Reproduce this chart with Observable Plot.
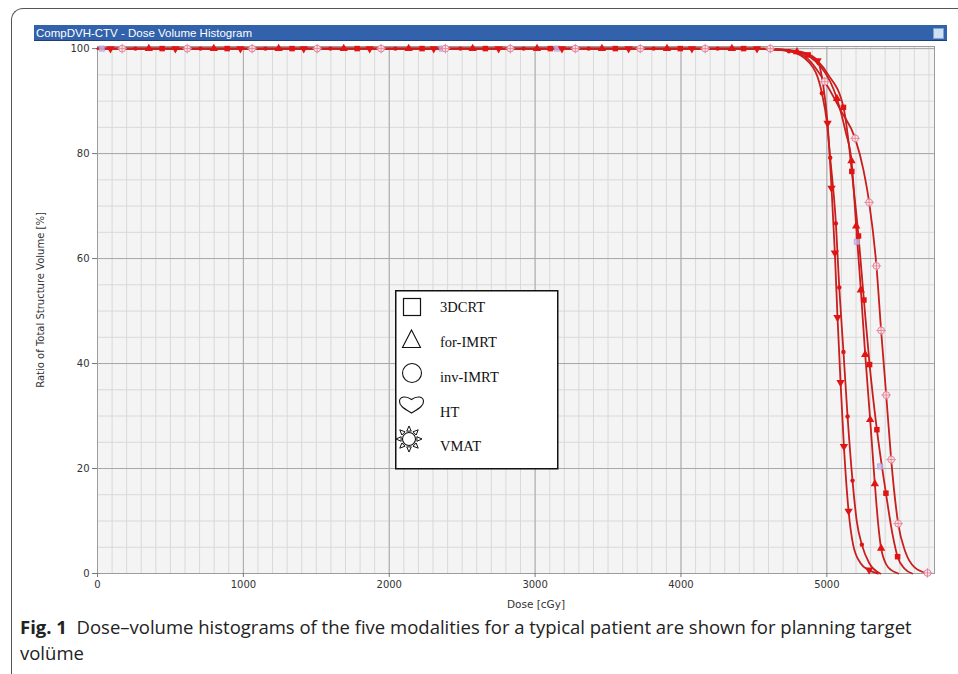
<!DOCTYPE html>
<html><head><meta charset="utf-8">
<script src="https://cdn.jsdelivr.net/npm/d3@7"></script>
<script src="https://cdn.jsdelivr.net/npm/@observablehq/plot@0.6"></script>
<style>
html,body{margin:0;padding:0;background:#fff}
body{width:958px;height:674px;overflow:hidden;position:relative;font-family:"DejaVu Sans",sans-serif}
#frame{position:absolute;left:11px;top:8px;width:990px;height:720px;border-left:1.5px solid #555;border-top:1.5px solid #555;border-top-left-radius:12px;box-sizing:border-box}
#titlebar{position:absolute;left:34px;top:25px;width:913px;height:16px;background:#3162ab;color:#fff;font:11.5px "Liberation Sans",Arial,sans-serif;line-height:16px;padding-left:2px;box-sizing:border-box;border-bottom:1px solid #1d3f78}
#titlebar .ico{position:absolute;right:3px;top:3px;width:9px;height:9px;background:#cfe0f5;border:1px solid #7fa1d0}
#chart{position:absolute;left:0;top:0}
#xlab{position:absolute;left:536px;top:598px;transform:translateX(-50%);font:10.5px "DejaVu Sans",sans-serif;color:#333;white-space:nowrap}
#ylab{position:absolute;left:40px;top:300px;transform:translate(-50%,-50%) rotate(-90deg);font:10px "DejaVu Sans",sans-serif;color:#333;white-space:nowrap}
#legend{position:absolute;left:395px;top:290px}
#caption{position:absolute;left:20px;top:614px;font:18.5px "Open Sans",sans-serif;line-height:26px;color:#222;white-space:nowrap}
</style>
</head><body>
<div id="frame"></div>
<div id="titlebar">CompDVH-CTV - Dose Volume Histogram<div class="ico"></div></div>
<div id="chart"></div>
<div id="xlab">Dose [cGy]</div>
<div id="ylab">Ratio of Total Structure Volume [%]</div>
<svg id="legend" width="164" height="180">
  <rect x="0.75" y="0.75" width="162" height="178" fill="#fff" stroke="#111" stroke-width="1.5"/>
  <rect x="8.5" y="8.5" width="17" height="17" fill="none" stroke="#111" stroke-width="1.2"/>
  <path d="M16.5 40 L25.5 57.5 L7.5 57.5 Z" fill="none" stroke="#111" stroke-width="1.1"/>
  <circle cx="17" cy="83" r="9.5" fill="none" stroke="#111" stroke-width="1.1"/>
  <path d="M16.5 123 C10 119,4 116,4.5 111 C5 106.5,11 105.5,16.5 109.5 C22 105.5,28 106.5,28.5 111 C29 116,23 119,16.5 123 Z" fill="none" stroke="#111" stroke-width="1.1"/>
  <g id="sun" transform="translate(14,149)"></g>
  <g font-family="'Liberation Serif','DejaVu Serif',serif" font-size="14.5" fill="#111">
    <text x="45" y="22">3DCRT</text>
    <text x="45" y="56.5">for-IMRT</text>
    <text x="45" y="91.5">inv-IMRT</text>
    <text x="45" y="126.5">HT</text>
    <text x="45" y="161">VMAT</text>
  </g>
</svg>
<div id="caption"><b>Fig. 1</b>&nbsp; Dose–volume histograms of the five modalities for a typical patient are shown for planning target<br>volüme</div>
<script>
// ---------- axis ticks ----------
const doseTicks = [0, 1000, 2000, 3000, 4000, 5000];
const volTicks = [0, 20, 40, 60, 80, 100];
const doseMinorStep = 100;
const volMinorStep = 5;
const doseMax = 5738;

// ---------- series names ----------
const seriesNames = ["3DCRT", "for-IMRT", "inv-IMRT", "HT", "VMAT"];

// ---------- DVH curves [dose cGy, volume %] ----------
const curve3DCRT = [[0,100],[4500,100],[4700,99.7],[4872,98.8],[5010,95],[5114,88.8],[5150,82],[5171,76.6],[5217,64.3],[5254,52.1],[5293,39.8],[5343,27.4],[5405,15.3],[5450,7.5],[5485,3.2],[5530,1],[5585,0]];
const curveForIMRT = [[0,100],[4500,100],[4650,99.8],[4795,99.4],[4960,96.5],[5069,90.5],[5130,84],[5169,78.6],[5201,66.2],[5233,54.0],[5263,41.7],[5297,29.3],[5329,17.1],[5350,10],[5372,4.8],[5420,1.2],[5490,0]];
const curveInvIMRT = [[0,100],[4500,100],[4620,99.8],[4740,99.5],[4880,97.3],[4966,91.5],[5000,86],[5023,79.2],[5062,66.7],[5085,54.5],[5114,42.2],[5142,29.9],[5176,17.7],[5205,10],[5240,5.5],[5290,2],[5366,0]];
const curveHT = [[0,100],[4550,100],[4700,99.8],[4850,99.2],[4936,97.7],[4975,93],[5005,85.8],[5032,73.4],[5055,61.1],[5073,48.8],[5094,36.4],[5117,24.2],[5149,11.9],[5180,5.5],[5230,2],[5290,0.6],[5350,0]];
const curveVMAT = [[0,100],[4550,100],[4700,99.8],[4850,98.5],[4986,93.7],[5100,88],[5194,82.9],[5250,77],[5290,70.7],[5340,58.6],[5372,46.3],[5407,34.0],[5441,21.7],[5489,9.5],[5540,4],[5600,1.2],[5690,0]];

// ---------- marker positions ----------
// plateau markers (volume 100 %), doses in cGy
const plateau3DCRT = [443, 889, 1334, 1780, 2225, 2659, 3104, 3550, 3995, 4429];
const plateauForIMRT = [352, 797, 1242, 1688, 2133, 2572, 3013, 3458, 3904, 4349];
const plateauInvIMRT = [260, 706, 1151, 1597, 2042, 2488, 2921, 3367, 3812, 4251];
const plateauHT = [89, 534, 980, 1414, 1866, 2305, 2750, 3184, 3641, 4075, 4521];
const plateauVMAT = [169, 615, 1060, 1506, 1944, 2385, 2830, 3276, 3721, 4166, 4612];
// fall-off markers [dose, volume]
const fall3DCRT = [[4872,98.8],[5114,88.8],[5171,76.6],[5217,64.3],[5254,52.1],[5293,39.8],[5343,27.4],[5405,15.3],[5485,3.2]];
const fallForIMRT = [[4795,99.4],[5069,90.5],[5169,78.6],[5201,66.2],[5233,54.0],[5263,41.7],[5297,29.3],[5329,17.1],[5372,4.8]];
const fallInvIMRT = [[4740,99.5],[4966,91.5],[5023,79.2],[5062,66.7],[5085,54.5],[5114,42.2],[5142,29.9],[5176,17.7],[5240,5.5]];
const fallHT = [[4936,97.7],[5005,85.8],[5032,73.4],[5055,61.1],[5073,48.8],[5094,36.4],[5117,24.2],[5149,11.9],[5290,0.7]];
const fallVMAT = [[4986,93.7],[5194,82.9],[5290,70.7],[5340,58.6],[5372,46.3],[5407,34.0],[5441,21.7],[5489,9.5],[5690,0.1]];
// faint lavender markers
const faintMarks = [[30,100],[2360,100],[3150,100],[5206,63.2],[5366,20.4]];

// ---------- build tables ----------
const curves = [curve3DCRT, curveForIMRT, curveInvIMRT, curveHT, curveVMAT];
const lineData = curves.flatMap((c, i) => c.map(([dose, vol]) => ({series: seriesNames[i], dose, vol})));
const toMarks = (plat, fall) => plat.map(d => ({dose: d, vol: 100})).concat(fall.map(([dose, vol]) => ({dose, vol})));
const m3DCRT = toMarks(plateau3DCRT, fall3DCRT);
const mForIMRT = toMarks(plateauForIMRT, fallForIMRT);
const mInvIMRT = toMarks(plateauInvIMRT, fallInvIMRT);
const mHT = toMarks(plateauHT, fallHT);
const mVMAT = toMarks(plateauVMAT, fallVMAT);
const mFaint = faintMarks.map(([dose, vol]) => ({dose, vol}));

const minorDose = d3.range(0, doseMax, doseMinorStep);
const minorVol = d3.range(0, 100.1, volMinorStep);

const lineColor = "#c81e1e";
const markColor = "#e11414";
const pink = "#e3869a";
const fmt = d3.format("d");

const chart = Plot.plot({
  width: 958, height: 613,
  marginLeft: 97, marginRight: 24, marginTop: 46, marginBottom: 40,
  x: {domain: [0, doseMax], axis: null},
  y: {domain: [0, 100.4], axis: null},
  style: {background: "transparent", fontFamily: "DejaVu Sans, sans-serif", fontSize: "10px", color: "#333"},
  marks: [
    Plot.frame({fill: "#f4f4f4"}),
    Plot.gridX({ticks: minorDose, stroke: "#d9d9d9", strokeOpacity: 1}),
    Plot.gridY({ticks: minorVol, stroke: "#d9d9d9", strokeOpacity: 1}),
    Plot.gridX({ticks: doseTicks, stroke: "#a8a8a8", strokeOpacity: 1}),
    Plot.gridY({ticks: volTicks, stroke: "#a8a8a8", strokeOpacity: 1}),
    Plot.frame({stroke: "#9c9c9c"}),
    Plot.axisX({ticks: doseTicks, tickFormat: fmt, tickSize: 4, tickPadding: 3, label: null, stroke: "#777"}),
    Plot.axisY({ticks: volTicks, tickFormat: fmt, tickSize: 5, tickPadding: 3, label: null, stroke: "#777"}),
    Plot.line(lineData, {x: "dose", y: "vol", z: "series", stroke: lineColor, strokeWidth: 1.8, curve: "monotone-x"}),
    Plot.dot(mFaint, {x: "dose", y: "vol", symbol: "square", r: 3, fill: "#c9b8ee", fillOpacity: 0.8, stroke: "#a996df", strokeWidth: 0.6}),
    Plot.dot(mVMAT, {x: "dose", y: "vol", r: 3.4, fill: "#fbe4ea", stroke: pink, strokeWidth: 1}),
    Plot.dot(mVMAT, {x: "dose", y: "vol", symbol: "plus", r: 3.2, stroke: pink, strokeWidth: 0.9}),
    Plot.dot(m3DCRT, {x: "dose", y: "vol", symbol: "square", r: 3.1, fill: markColor}),
    Plot.dot(mForIMRT, {x: "dose", y: "vol", symbol: "triangle", r: 3.1, fill: markColor}),
    Plot.dot(mInvIMRT, {x: "dose", y: "vol", r: 2.2, fill: markColor}),
    Plot.dot(mHT, {x: "dose", y: "vol", symbol: "triangle", rotate: 180, r: 3.1, fill: markColor})
  ]
});
document.getElementById("chart").appendChild(chart);

// sun symbol for legend
const sun = d3.select("#sun");
sun.append("circle").attr("r", 6.5).attr("fill", "none").attr("stroke", "#111").attr("stroke-width", 1.1);
for (let k = 0; k < 8; k++) {
  const a = k * Math.PI / 4 - Math.PI / 2;
  const p = (r, da) => [Math.cos(a + da) * r, Math.sin(a + da) * r];
  const pts = [p(8.2, -0.28), p(13, 0), p(8.2, 0.28)];
  sun.append("path").attr("d", "M" + pts.map(q => q.join(",")).join("L") + "Z")
    .attr("fill", "none").attr("stroke", "#111").attr("stroke-width", 1);
}
</script>
</body></html>
